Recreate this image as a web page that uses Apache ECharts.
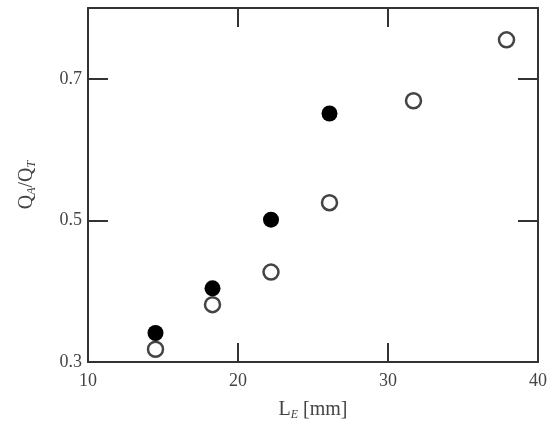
<!DOCTYPE html>
<html>
<head>
<meta charset="utf-8">
<script src="https://cdn.jsdelivr.net/npm/echarts@6/dist/echarts.min.js"></script>
<style>
  html, body { margin: 0; padding: 0; background: #fff; }
  #main { width: 551px; height: 422px; }
</style>
</head>
<body>
<div id="main"></div>
<script>
// L_E in mm, Q_A/Q_T
var filledX = [14.5, 18.3, 22.2, 26.1];
var filledY = [0.341, 0.404, 0.501, 0.651];
var openX = [14.5, 18.3, 22.2, 26.1, 31.7, 37.9];
var openY = [0.318, 0.381, 0.427, 0.525, 0.669, 0.755];
var xTicks = [20, 30];
var xLabels = [10, 20, 30, 40];
var yTicks = [0.5, 0.7];
var yLabels = [0.3, 0.5, 0.7];

var pairs = function(xs, ys) {
    return xs.map(function(x, i) { return [x, ys[i]]; });
};

var chart = echarts.init(document.getElementById('main'));
var lineStyle = { color: '#333', width: 2 };
var font = 'Liberation Serif';
var textColor = '#444';
var nameRich = {
    a: { fontFamily: font, fontSize: 20, color: textColor },
    s: { fontFamily: font, fontSize: 12, fontStyle: 'italic', color: textColor, verticalAlign: 'bottom', padding: [10, 0, 0, 0] }
};

var option = {
    animation: false,
    grid: { left: 88, right: 13, top: 8, bottom: 60, outerBoundsMode: 'none' },
    xAxis: [{
        type: 'value',
        position: 'bottom',
        min: 10,
        max: 40,
        name: '{a|L}{s|E}{a| [mm]}',
        nameLocation: 'middle',
        nameGap: 37,
        nameTextStyle: { rich: nameRich },
        splitLine: { show: false },
        axisLine: { lineStyle: lineStyle },
        axisTick: { inside: true, length: 19, lineStyle: lineStyle, customValues: xTicks },
        axisLabel: { customValues: xLabels, fontFamily: font, fontSize: 18, color: textColor, margin: 10 }
    }, {
        type: 'value',
        position: 'top',
        min: 10,
        max: 40,
        splitLine: { show: false },
        axisLine: { lineStyle: lineStyle },
        axisTick: { inside: true, length: 19, lineStyle: lineStyle, customValues: xTicks },
        axisLabel: { show: false }
    }],
    yAxis: [{
        type: 'value',
        position: 'left',
        min: 0.3,
        max: 0.8,
        name: '{a|Q}{s|A}{a|/Q}{s|T}',
        nameLocation: 'middle',
        nameGap: 50,
        nameTextStyle: { rich: nameRich },
        splitLine: { show: false },
        axisLine: { lineStyle: lineStyle },
        axisTick: { inside: true, length: 20, lineStyle: lineStyle, customValues: yTicks },
        axisLabel: { customValues: yLabels, fontFamily: font, fontSize: 18, color: textColor, margin: 6 }
    }, {
        type: 'value',
        position: 'right',
        min: 0.3,
        max: 0.8,
        splitLine: { show: false },
        axisLine: { lineStyle: lineStyle },
        axisTick: { inside: true, length: 20, lineStyle: lineStyle, customValues: yTicks },
        axisLabel: { show: false }
    }],
    series: [{
        name: 'open',
        type: 'scatter',
        symbol: 'circle',
        symbolSize: 15,
        itemStyle: { color: '#fff', borderColor: '#444', borderWidth: 2.5, opacity: 1 },
        data: pairs(openX, openY)
    }, {
        name: 'filled',
        type: 'scatter',
        symbol: 'circle',
        symbolSize: 16,
        itemStyle: { color: '#000', opacity: 1 },
        data: pairs(filledX, filledY)
    }]
};
chart.setOption(option);
</script>
</body>
</html>
